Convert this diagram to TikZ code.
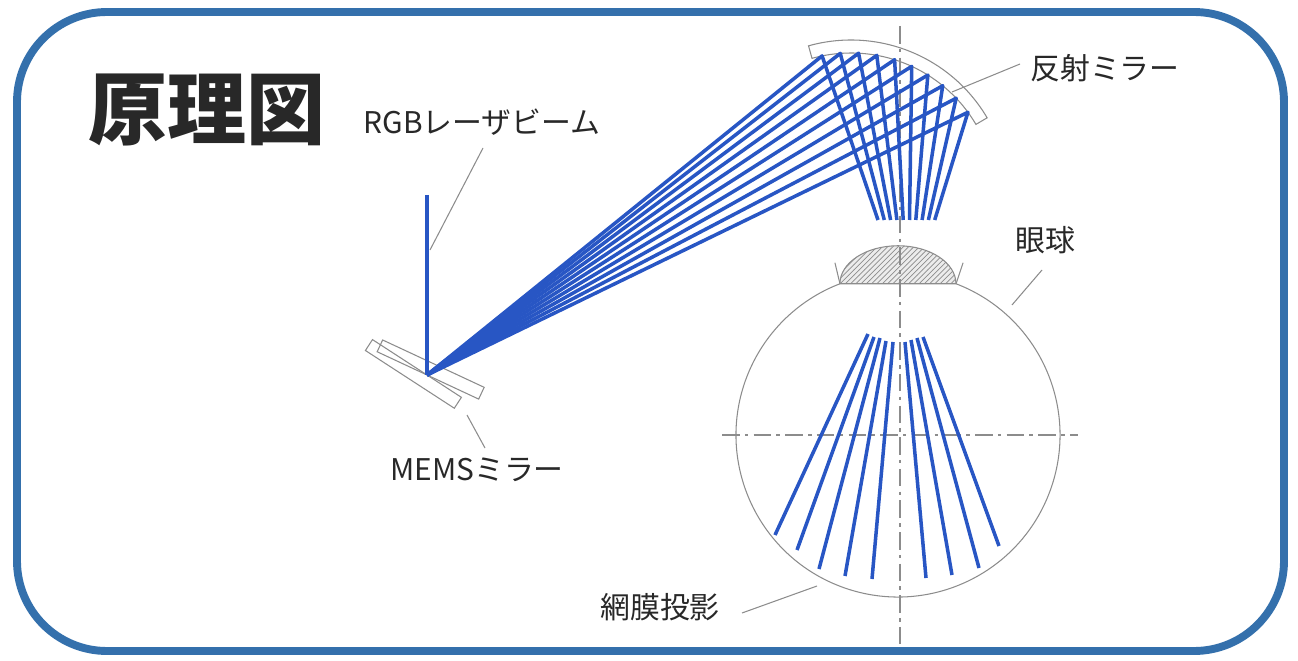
\documentclass[tikz,border=0pt]{standalone}
\usepackage{fontspec}
\newfontfamily\jp{Noto Sans CJK JP}
\usetikzlibrary{patterns,calc}
\definecolor{beam}{RGB}{40,86,196}
\definecolor{frameblue}{RGB}{52,112,172}
\definecolor{linegray}{RGB}{140,140,140}
\definecolor{txt}{RGB}{40,40,40}
\begin{document}
\begin{tikzpicture}[x=0.02cm, y=0.02cm,
    ray/.style={beam, line width=2pt, line join=round},
    leader/.style={linegray, line width=0.6pt},
    axisline/.style={linegray, line width=0.6pt, dash pattern=on 10pt off 3pt on 2pt off 3pt},
    lbl/.style={font=\jp\fontsize{17}{20}\selectfont, text=txt, inner sep=0pt}]
    \useasboundingbox (0,0) rectangle (1298,660);

    % 外框与标题
    \draw[frameblue, line width=4.5pt, rounded corners=1.8cm] (17,9) rectangle (1284,648);
    \node[font=\jp\bfseries\fontsize{45}{50}\selectfont, text=txt] (title) at (207,550) {原理図};

    % 反射镜（圆弧带）
    \coordinate (mc) at (851,462);
    \filldraw[leader, fill=white] (mc) ++(30.5:158) arc[start angle=30.5, end angle=105.6, radius=158]
        -- ++(285.6:13) arc[start angle=105.6, end angle=30.5, radius=145] -- cycle;

    % 眼球与角膜
    \coordinate (eyec) at (898,225);
    \draw[leader] (eyec) ++(69:162) arc[start angle=69, end angle=-249, radius=162];
    \filldraw[leader, fill=gray!15] (eyec) ++(111:162) arc[start angle=180, end angle=0, x radius=58, y radius=38] -- cycle;
    \fill[pattern=north east lines, pattern color=linegray] (eyec) ++(111:162) arc[start angle=180, end angle=0, x radius=58, y radius=38] -- cycle;
    \draw[leader] (eyec) ++(111:162) -- ++(-5,21);
    \draw[leader] (eyec) ++(69:162) -- ++(7,21);

    % 光轴
    \draw[axisline] (900,634) -- (900,12);
    \draw[axisline] (722,225) -- (1078,225);

    % MEMS 镜的两个位置
    \coordinate (P) at (427,285);
    \begin{scope}[shift={(P)}, rotate=-25]
        \draw[leader, fill=white, fill opacity=0.6] (-55,0) rectangle (57,13);
    \end{scope}
    \begin{scope}[shift={(P)}, rotate=-33]
        \draw[leader] (-65,-13) rectangle (41,0);
    \end{scope}

    % 激光：入射、扫描、反射
    \draw[ray] (427,465) -- (P);
    \foreach \i in {0,...,9}
        \draw[ray] (P) -- ($(mc)+({101.5-7.25*\i}:145)$) -- ({878+6.3*\i},440);

    % 视网膜上的投影
    \foreach \xa/\ya/\xb/\yb in {868/326/775/125, 874/323/797/110, 880/322/819/91, 886/319/845/84,
        893/318/872/81, 905/318/926/82, 911/320/952/85, 917/322/979/92, 923/323/999/114}
        \draw[ray] (\xa,\ya) -- (\xb,\yb);

    % 标注
    \node[lbl] (rgblbl) at (482,538) {RGBレーザビーム};
    \node[lbl] (memslbl) at (477,190) {MEMSミラー};
    \node[lbl] (mirrorlbl) at (1105,592) {反射ミラー};
    \node[lbl] (eyelbl) at (1045,420) {眼球};
    \node[lbl] (retinalbl) at (660,53) {網膜投影};

    \coordinate (rgbtop) at (483,512);   \coordinate (rgbend) at (430,410);
    \coordinate (memstop) at (467,245);  \coordinate (memsend) at (485,212);
    \coordinate (mirrorin) at (952,568); \coordinate (mirrorout) at (1020,596);
    \coordinate (eyein) at (1012,355);   \coordinate (eyeout) at (1042,390);
    \coordinate (retinaout) at (742,47); \coordinate (retinain) at (817,74);
    \draw[leader] (rgbtop) -- (rgbend);
    \draw[leader] (memstop) -- (memsend);
    \draw[leader] (mirrorin) -- (mirrorout);
    \draw[leader] (eyein) -- (eyeout);
    \draw[leader] (retinaout) -- (retinain);
\end{tikzpicture}
\end{document}
